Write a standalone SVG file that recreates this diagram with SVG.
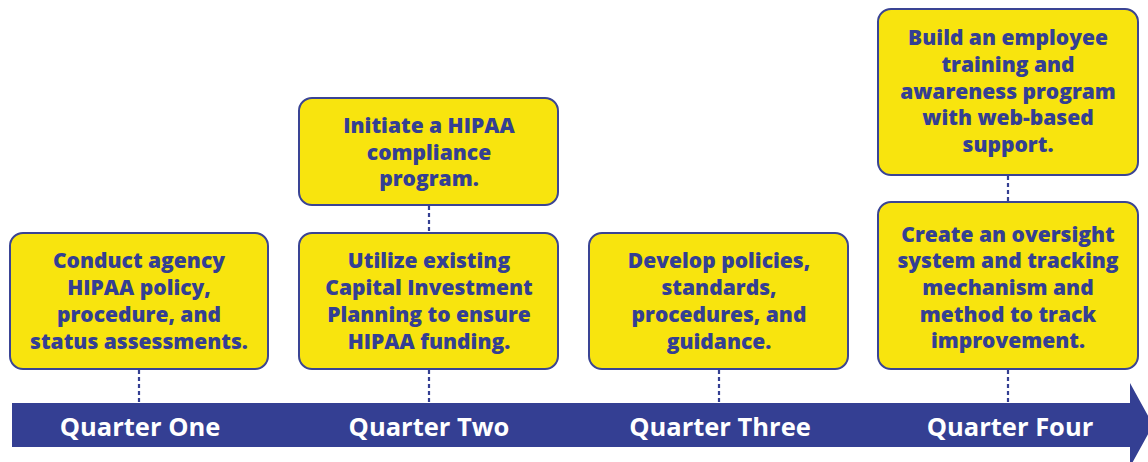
<svg xmlns="http://www.w3.org/2000/svg" width="1148" height="462" viewBox="0 0 1148 462">
  <style>
    .box { fill: #f8e40e; stroke: #3a4494; stroke-width: 2; }
    .label { font-family: "Open Sans", "Liberation Sans", sans-serif; font-weight: 800; font-size: 21px; fill: #343f93; text-anchor: middle; }
    .quarter { font-family: "Open Sans", "Liberation Sans", sans-serif; font-weight: bold; font-size: 25.5px; fill: #ffffff; text-anchor: middle; }
    .link { stroke: #343f93; stroke-width: 2.2; stroke-dasharray: 4 3; fill: none; }
  </style>
  <rect width="1148" height="462" fill="#ffffff"/>

  <!-- timeline arrow -->
  <g id="timeline">
    <polygon points="12,403 1130,403 1130,383 1153,425 1130,467 1130,447 12,447" fill="#343f93"/>
    <text class="quarter" x="140" y="436">Quarter One</text>
    <text class="quarter" x="429" y="436">Quarter Two</text>
    <text class="quarter" x="720" y="436">Quarter Three</text>
    <text class="quarter" x="1010" y="436">Quarter Four</text>
  </g>

  <!-- dotted connectors -->
  <g id="connectors">
    <line class="link" x1="139" y1="370" x2="139" y2="403"/>
    <line class="link" x1="429" y1="206" x2="429" y2="232"/>
    <line class="link" x1="429" y1="370" x2="429" y2="403"/>
    <line class="link" x1="719" y1="370" x2="719" y2="403"/>
    <line class="link" x1="1008" y1="176" x2="1008" y2="202"/>
    <line class="link" x1="1008" y1="370" x2="1008" y2="403"/>
  </g>

  <g id="q1-assess">
    <rect class="box" x="10" y="233" width="258" height="136" rx="13"/>
    <text class="label" x="139" y="268">Conduct agency</text>
    <text class="label" x="139" y="295">HIPAA policy,</text>
    <text class="label" x="139" y="322">procedure, and</text>
    <text class="label" x="139" y="349">status assessments.</text>
  </g>

  <g id="q2-initiate">
    <rect class="box" x="299" y="98" width="259" height="107" rx="13"/>
    <text class="label" x="429" y="133">Initiate a HIPAA</text>
    <text class="label" x="429" y="160">compliance</text>
    <text class="label" x="429" y="186">program.</text>
  </g>

  <g id="q2-funding">
    <rect class="box" x="299" y="233" width="259" height="136" rx="13"/>
    <text class="label" x="429" y="268">Utilize existing</text>
    <text class="label" x="429" y="295">Capital Investment</text>
    <text class="label" x="429" y="322">Planning to ensure</text>
    <text class="label" x="429" y="349">HIPAA funding.</text>
  </g>

  <g id="q3-policies">
    <rect class="box" x="589" y="233" width="259" height="136" rx="13"/>
    <text class="label" x="719" y="268">Develop policies,</text>
    <text class="label" x="719" y="295">standards,</text>
    <text class="label" x="719" y="322">procedures, and</text>
    <text class="label" x="719" y="349">guidance.</text>
  </g>

  <g id="q4-training">
    <rect class="box" x="878" y="9" width="260" height="166" rx="13"/>
    <text class="label" x="1008" y="45">Build an employee</text>
    <text class="label" x="1008" y="72">training and</text>
    <text class="label" x="1008" y="99">awareness program</text>
    <text class="label" x="1008" y="125">with web-based</text>
    <text class="label" x="1008" y="152">support.</text>
  </g>

  <g id="q4-oversight">
    <rect class="box" x="878" y="202" width="260" height="167" rx="13"/>
    <text class="label" x="1008" y="242">Create an oversight</text>
    <text class="label" x="1008" y="268">system and tracking</text>
    <text class="label" x="1008" y="295">mechanism and</text>
    <text class="label" x="1008" y="322">method to track</text>
    <text class="label" x="1008" y="348">improvement.</text>
  </g>
</svg>
